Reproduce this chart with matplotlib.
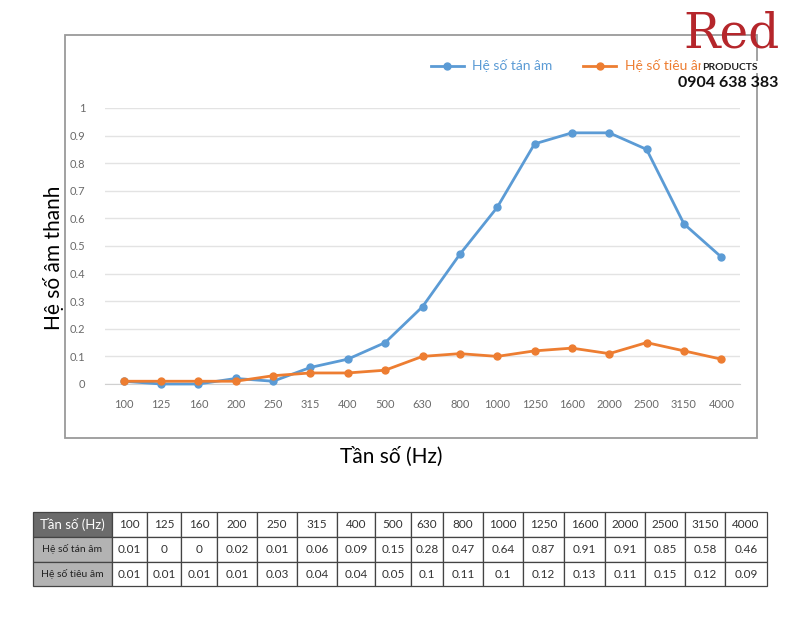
import matplotlib
matplotlib.use("Agg")
import matplotlib.pyplot as plt
from matplotlib.patches import Rectangle

# Dữ liệu
tan_so = ["100", "125", "160", "200", "250", "315", "400", "500", "630", "800",
          "1000", "1250", "1600", "2000", "2500", "3150", "4000"]
he_so_tan_am = [0.01, 0, 0, 0.02, 0.01, 0.06, 0.09, 0.15, 0.28, 0.47,
                0.64, 0.87, 0.91, 0.91, 0.85, 0.58, 0.46]
he_so_tieu_am = [0.01, 0.01, 0.01, 0.01, 0.03, 0.04, 0.04, 0.05, 0.1, 0.11,
                 0.1, 0.12, 0.13, 0.11, 0.15, 0.12, 0.09]
y_ticks = [0, 0.1, 0.2, 0.3, 0.4, 0.5, 0.6, 0.7, 0.8, 0.9, 1]
y_tick_labels = ["0", "0.1", "0.2", "0.3", "0.4", "0.5", "0.6", "0.7", "0.8", "0.9", "1"]

BLUE = "#5b9bd5"
ORANGE = "#ed7d31"

plt.rcParams["font.family"] = ["Lato", "DejaVu Sans"]

W, H = 800, 627
fig = plt.figure(figsize=(W / 100, H / 100), dpi=100)

def fx(px):
    return px / W

def fy(py):
    return 1 - py / H

# khung bao quanh biểu đồ
fig.patches.append(Rectangle((fx(65), fy(438)), fx(757) - fx(65), fy(35) - fy(438),
                             transform=fig.transFigure, fill=False,
                             edgecolor="#9a9a9a", linewidth=1.3))

# vùng vẽ
ax = fig.add_axes([fx(105), fy(384), fx(740) - fx(105), fy(108) - fy(384)])
x = list(range(len(tan_so)))
ax.plot(x, he_so_tan_am, color=BLUE, lw=2, marker="o", ms=5, clip_on=False,
        label="Hệ số tán âm", zorder=3)
ax.plot(x, he_so_tieu_am, color=ORANGE, lw=2, marker="o", ms=5, clip_on=False,
        label="Hệ số tiêu âm", zorder=4)

ax.set_xlim(-0.5, len(tan_so) - 0.5)
ax.set_ylim(0, 1)
ax.set_xticks(x)
ax.set_xticklabels(tan_so, fontsize=8, color="#6a6a6a")
ax.set_yticks(y_ticks)
ax.set_yticklabels(y_tick_labels, fontsize=8, color="#6a6a6a")
ax.tick_params(length=0, pad=11)
ax.tick_params(axis="y", pad=14)
ax.grid(axis="y", color="#e3e3e3", lw=1)
ax.set_axisbelow(True)
for s in ["top", "right", "left"]:
    ax.spines[s].set_visible(False)
ax.spines["bottom"].set_color("#d0d0d0")

leg = ax.legend(loc="lower left", bbox_to_anchor=(fx(425), fy(78)),
                bbox_transform=fig.transFigure, ncol=2, frameon=False,
                fontsize=10, handlelength=2.4, handletextpad=0.6,
                columnspacing=2.2, borderaxespad=0)
for t, c in zip(leg.get_texts(), [BLUE, ORANGE]):
    t.set_color(c)

fig.text(fx(54), fy(258), "Hệ số âm thanh", rotation=90, ha="center",
         va="center", fontsize=15)
fig.text(fx(391), fy(457), "Tần số (Hz)", ha="center", va="center", fontsize=15)

# logo (nền trắng che một phần chú thích như ảnh gốc)
fig.text(fx(731), fy(34), "Red", ha="center", va="center", fontsize=35,
         color="#b5262b", family="DejaVu Serif")
fig.text(fx(730), fy(67), "PRODUCTS", ha="center", va="center", fontsize=7.5,
         weight="bold", color="#222222",
         bbox=dict(facecolor="white", edgecolor="none", pad=1))
fig.text(fx(728), fy(83), "0904 638 383", ha="center", va="center",
         fontsize=11.5, weight="bold", color="#111111")

# bảng số liệu
col_edges = [33, 112, 147, 181, 217, 257, 297, 337, 375, 411, 443, 483, 523,
             564, 605, 645, 685, 725, 767]
row_edges = [512, 537, 562, 586]
rows = [["Tần số (Hz)"] + tan_so,
        ["Hệ số tán âm"] + [f"{v:g}" for v in he_so_tan_am],
        ["Hệ số tiêu âm"] + [f"{v:g}" for v in he_so_tieu_am]]
for r, row in enumerate(rows):
    y0, y1 = row_edges[r], row_edges[r + 1]
    for c, txt in enumerate(row):
        x0, x1 = col_edges[c], col_edges[c + 1]
        if c == 0:
            face = "#6b6b6b" if r == 0 else "#b3b3b3"
        else:
            face = "white"
        fig.patches.append(Rectangle((fx(x0), fy(y1)), fx(x1) - fx(x0),
                                     fy(y0) - fy(y1), transform=fig.transFigure,
                                     facecolor=face, edgecolor="#444444", lw=0.9))
        if c == 0:
            col = "white" if r == 0 else "#222222"
            size = 9.5 if r == 0 else 7.5
        else:
            col = "#333333"
            size = 8.5
        fig.text(fx((x0 + x1) / 2), fy((y0 + y1) / 2), txt, ha="center",
                 va="center", fontsize=size, color=col)

fig.savefig("out.png", dpi=100)
